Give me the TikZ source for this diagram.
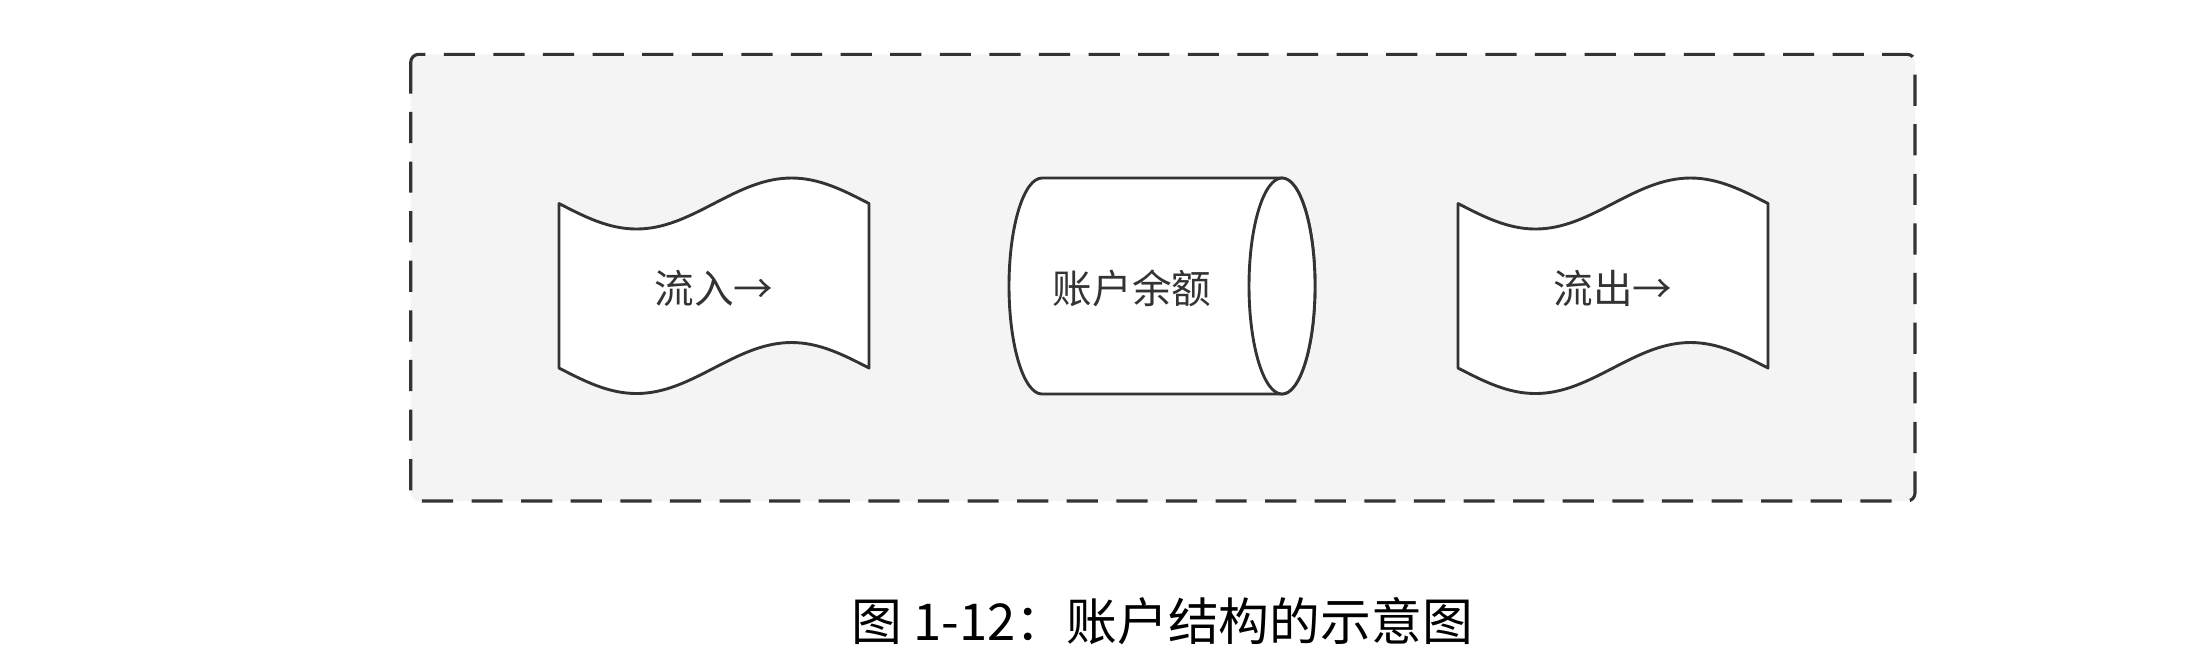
\documentclass[tikz,border=0pt]{standalone}
\usepackage{fontspec}
\newfontfamily\cjk{Noto Sans CJK SC}
\definecolor{frame}{HTML}{333333}
\definecolor{panelbg}{HTML}{F4F4F4}
\definecolor{textgray}{HTML}{333333}
\tikzset{
  panel/.style={draw=frame, fill=panelbg, line width=0.78pt, dash pattern=on 7.8pt off 4.6pt, rounded corners=2pt},
  tapebox/.style={draw=frame, fill=white, line width=0.72pt, line join=round},
  cylbox/.style={draw=frame, fill=white, line width=0.72pt, line join=round},
  lbl/.style={text=textgray, font=\cjk\fontsize{9.9pt}{12pt}\selectfont, inner sep=0pt},
  captiontext/.style={text=black, font=\cjk\fontsize{12.7pt}{15pt}\selectfont, inner sep=0pt}
}
\begin{document}
\begin{tikzpicture}[x=0.25pt,y=-0.25pt]
\useasboundingbox (0,0) rectangle (2212,668);
% dashed panel
\draw[panel] (410.7,54.3) rectangle (1915,501);
% left tape
\draw[tapebox] (559,203.5) sin (636.5,229) cos (714,203.5) sin (791.5,178) cos (869,203.5)
  -- (869,368) sin (791.5,342.5) cos (714,368) sin (636.5,393.5) cos (559,368) -- cycle;
% cylinder
\draw[cylbox] (1282,178) -- (1042,178)
  arc[start angle=-90, end angle=-270, x radius=33, y radius=108]
  -- (1282,394) arc[start angle=90, end angle=-90, x radius=33, y radius=108] -- cycle;
\draw[cylbox] (1282,286) ellipse[x radius=33, y radius=108];
% right tape
\draw[tapebox] (1458,203.5) sin (1535.5,229) cos (1613,203.5) sin (1690.5,178) cos (1768,203.5)
  -- (1768,368) sin (1690.5,342.5) cos (1613,368) sin (1535.5,393.5) cos (1458,368) -- cycle;
% labels
\node[lbl] (inflow) at (714,288) {流入→};
\node[lbl] (balance) at (1132,288) {账户余额};
\node[lbl] (outflow) at (1613,288) {流出→};
\node[captiontext] (caption) at (1162,621) {图 1-12：账户结构的示意图};
\end{tikzpicture}
\end{document}
